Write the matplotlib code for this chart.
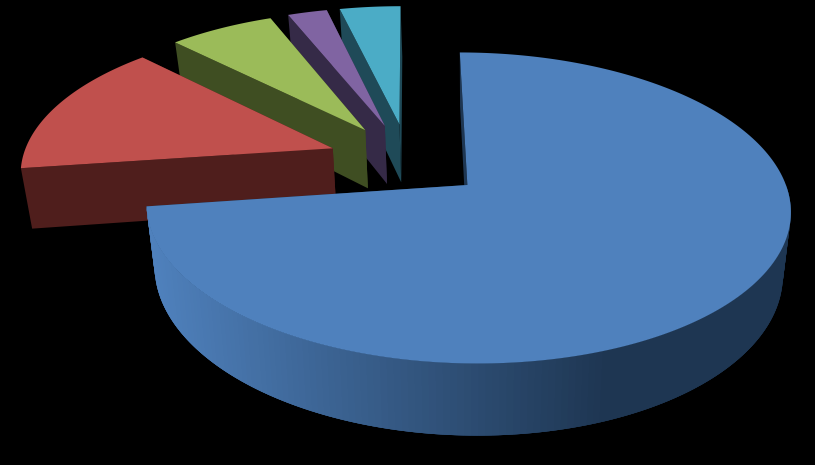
import matplotlib
matplotlib.use('Agg')
import matplotlib.pyplot as plt
from matplotlib.colors import to_rgb
import numpy as np

# Share of each slice (clockwise from 12 o'clock)
values = [72.8, 14.7, 6.4, 2.4, 3.7]
top_colors = ['#4f81bd', '#c0504d', '#9bbb59', '#8064a2', '#4bacc6']
face_colors = ['#1e3652', '#4f1e1c', '#3f4e22', '#352a47', '#1f4a58']
explode_x = [0.245, 0.26, 0.26, 0.26, 0.26]
explode_y = [0.25, 0.27, 0.26, 0.26, 0.26]

# Camera of the fake 3D pie, in pixels
cx, cy = 408.5, 160.6
rx, ry = 311, 145
persp = 0.1444
depth = 60
shrink = 0.975
shrink_x = 470


def project(X, Y, bottom=False):
    w = 1 + persp * Y
    x = cx + rx * X / w
    y = cy - ry * Y / w
    if bottom:
        x = shrink_x + (x - shrink_x) * shrink
        y = y + depth / w
    return x, y


def mix(a, b, t):
    a, b = np.array(to_rgb(a)), np.array(to_rgb(b))
    return tuple(a + (b - a) * t)


fig = plt.figure(figsize=(8.15, 4.65), dpi=100, facecolor='black')
ax = fig.add_axes([0, 0, 1, 1])
ax.set_xlim(0, 815)
ax.set_ylim(465, 0)
ax.axis('off')

edges = np.cumsum([0] + values) * 3.6

# back slices first, the big one goes on top of them
for i in [4, 3, 2, 1, 0]:
    a0, a1 = np.radians(edges[i]), np.radians(edges[i + 1])
    mid = (a0 + a1) / 2
    ox, oy = explode_x[i] * np.sin(mid), explode_y[i] * np.cos(mid)
    t = np.linspace(a0, a1, 240)
    X = ox + np.sin(t)
    Y = oy + np.cos(t)

    # radial walls
    for a in [a1, a0]:
        wx = np.array([ox, ox + np.sin(a)])
        wy = np.array([oy, oy + np.cos(a)])
        tx, ty = project(wx, wy)
        bx, by = project(wx, wy, bottom=True)
        ax.fill(np.r_[tx, bx[::-1]], np.r_[ty, by[::-1]], color=face_colors[i], lw=0)

    tx, ty = project(X, Y)
    bx, by = project(X, Y, bottom=True)

    # outer wall, only the big slice shows one, shaded in strips from left to right
    if i == 0:
        front = np.where(np.cos(t) < 0.02)[0]
        for j in front[:-1]:
            k = min(j + 3, front[-1])  # strips overlap a bit so no seams show
            s = np.clip((tx[j] - 150) / 460, 0, 1)
            col = mix(top_colors[i], face_colors[i], s)
            ax.fill([tx[j], tx[k], bx[k], bx[j]], [ty[j], ty[k], by[k], by[j]], color=col, lw=0)

    # top surface
    ax0, ay0 = project(np.array([ox]), np.array([oy]))
    ax.fill(np.r_[ax0, tx], np.r_[ay0, ty], color=top_colors[i], lw=0)

fig.savefig('out.png', dpi=100, facecolor='black')
